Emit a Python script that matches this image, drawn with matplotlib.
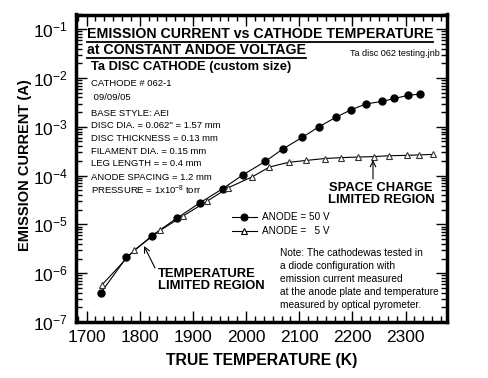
import matplotlib
matplotlib.use("Agg")
import matplotlib.pyplot as plt
from matplotlib.lines import Line2D
from matplotlib.ticker import LogLocator, FixedLocator, MultipleLocator, FuncFormatter, NullFormatter

plt.rcParams['font.family'] = ['Liberation Sans', 'DejaVu Sans']
plt.rcParams['mathtext.fontset'] = 'custom'
plt.rcParams['mathtext.rm'] = 'Liberation Sans'
plt.rcParams['mathtext.it'] = 'Liberation Sans'
plt.rcParams['mathtext.bf'] = 'Liberation Sans:bold'

# ---- data ----
temp_50v = [1727, 1775, 1823, 1870, 1914, 1956, 1995, 2036, 2069, 2106, 2137,
            2169, 2198, 2226, 2255, 2279, 2304, 2328]
current_50v = [4.0e-7, 2.1e-6, 5.9e-6, 1.35e-5, 2.8e-5, 5.4e-5, 1.05e-4, 1.95e-4,
               3.5e-4, 6.1e-4, 1.0e-3, 1.57e-3, 2.24e-3, 2.95e-3, 3.3e-3, 3.8e-3,
               4.4e-3, 4.7e-3]
temp_5v = [1729, 1790, 1838, 1882, 1926, 1966, 2012, 2044, 2080, 2112, 2148,
           2178, 2210, 2240, 2268, 2302, 2325, 2352]
current_5v = [5.8e-7, 3.0e-6, 7.5e-6, 1.5e-5, 2.95e-5, 5.6e-5, 9.5e-5, 1.5e-4,
              1.87e-4, 2.04e-4, 2.24e-4, 2.33e-4, 2.4e-4, 2.45e-4, 2.55e-4,
              2.6e-4, 2.65e-4, 2.72e-4]
x_ticks = [1700, 1800, 1900, 2000, 2100, 2200, 2300]
y_ticks = [1e-7, 1e-6, 1e-5, 1e-4, 1e-3, 1e-2, 1e-1]
legend_labels = ["ANODE = 50 V", "ANODE =   5 V"]
info_lines = ["CATHODE # 062-1", " 09/09/05", "BASE STYLE: AEI",
              'DISC DIA. = 0.062" = 1.57 mm', "DISC THICKNESS = 0.13 mm",
              "FILAMENT DIA. = 0.15 mm", "LEG LENGTH = = 0.4 mm",
              "ANODE SPACING = 1.2 mm", r"PRESSURE = 1x10$^{-8}$ torr"]
note_lines = ["Note: The cathodewas tested in", "a diode configuration with",
              "emission current measured", "at the anode plate and temperature",
              "measured by optical pyrometer."]

W, H = 489, 378
fig = plt.figure(figsize=(W / 100, H / 100), dpi=100)
L, R, T, B = 76, 447, 14.5, 322
ax = fig.add_axes([L / W, 1 - B / H, (R - L) / W, (B - T) / H])


def fx(px):
    return px / W


def fy(py):
    return 1 - py / H


ax.plot(temp_50v, current_50v, color='black', lw=0.8, marker='o', ms=5,
        mfc='black', mec='black')
ax.plot(temp_5v, current_5v, color='black', lw=0.8, marker='^', ms=5,
        mfc='white', mec='#333333', mew=0.8)

ax.set_yscale('log')
ax.set_xlim(1680, 2378)
ax.set_ylim(1e-7, 0.2)
ax.xaxis.set_major_locator(FixedLocator(x_ticks))
ax.xaxis.set_minor_locator(MultipleLocator(100 / 6))
ax.yaxis.set_major_locator(FixedLocator(y_ticks))
ax.yaxis.set_minor_locator(LogLocator(base=10, subs=range(2, 10), numticks=20))
ax.yaxis.set_minor_formatter(NullFormatter())


def yfmt(v, pos):
    import math
    e = int(round(math.log10(v)))
    return r"$10^{%d}$" % e


ax.yaxis.set_major_formatter(FuncFormatter(yfmt))
ax.tick_params(which='both', direction='in', top=True, right=True, width=1,
               labelsize=12.5, pad=6)
ax.tick_params(which='major', length=8)
ax.tick_params(which='minor', length=4)
for s in ax.spines.values():
    s.set_linewidth(2.5)

fig.text(fx((167 + 356) / 2), fy(360), "TRUE TEMPERATURE (K)", ha='center',
         va='center', fontsize=11.3, fontweight='bold')
fig.text(fx(25), fy(165), "EMISSION CURRENT (A)", ha='center', va='center',
         rotation=90, fontsize=10.5, fontweight='bold')

t1 = fig.text(fx(87), fy(34), "EMISSION CURRENT vs CATHODE TEMPERATURE",
              ha='left', va='center', fontsize=10.2, fontweight='bold')
t2 = fig.text(fx(87), fy(50.5), "at CONSTANT ANDOE VOLTAGE", ha='left',
              va='center', fontsize=10.2, fontweight='bold')
fig.text(fx(440), fy(53), "Ta disc 062 testing.jnb", ha='right', va='center',
         fontsize=6.5, family=['Liberation Sans Narrow', 'Liberation Sans'])
fig.text(fx(91), fy(67), "Ta DISC CATHODE (custom size)", ha='left',
         va='center', fontsize=9.3, fontweight='bold')

info_y = [84, 97, 113, 126, 139, 151, 164, 177, 190]
for yy, s in zip(info_y, info_lines):
    fig.text(fx(91), fy(yy), s, ha='left', va='center', fontsize=6.8)

fig.text(fx(381), fy(194), "SPACE CHARGE\nLIMITED REGION", ha='center',
         va='center', fontsize=9.4, fontweight='bold', linespacing=1.05)
fig.text(fx(158), fy(280), "TEMPERATURE\nLIMITED REGION", ha='left',
         va='center', fontsize=9.4, fontweight='bold', linespacing=1.05)

ax.annotate("", xy=(fx(144), fy(246)), xycoords='figure fraction',
            xytext=(fx(155), fy(268)), textcoords='figure fraction',
            arrowprops=dict(arrowstyle='->', color='black', lw=0.8,
                            shrinkA=0, shrinkB=0))
ax.annotate("", xy=(fx(373), fy(160)), xycoords='figure fraction',
            xytext=(fx(373), fy(179)), textcoords='figure fraction',
            arrowprops=dict(arrowstyle='->', color='black', lw=0.8,
                            shrinkA=0, shrinkB=0))

# legend
for yy, mk, fc, lab in [(217, 'o', 'black', legend_labels[0]),
                        (231, '^', 'white', legend_labels[1])]:
    fig.add_artist(Line2D([fx(232), fx(257)], [fy(yy), fy(yy)],
                          transform=fig.transFigure, color='black', lw=0.8))
    fig.add_artist(Line2D([fx(244)], [fy(yy)], transform=fig.transFigure,
                          marker=mk, ms=5, mfc=fc, mec='black', mew=0.8,
                          ls='none'))
    fig.text(fx(262), fy(yy), lab, ha='left', va='center', fontsize=7.2)

note_y = [253, 266, 279, 292, 305]
for yy, s in zip(note_y, note_lines):
    fig.text(fx(280), fy(yy), s, ha='left', va='center', fontsize=7.3)

# underlines for the title lines
fig.canvas.draw()
rend = fig.canvas.get_renderer()
for t, uy in [(t1, 41.5), (t2, 57.5)]:
    bb = t.get_window_extent(rend)
    fig.add_artist(Line2D([bb.x0 / W, bb.x1 / W], [fy(uy), fy(uy)],
                          transform=fig.transFigure, color='black', lw=1.3))

fig.savefig("out.png", dpi=100)
